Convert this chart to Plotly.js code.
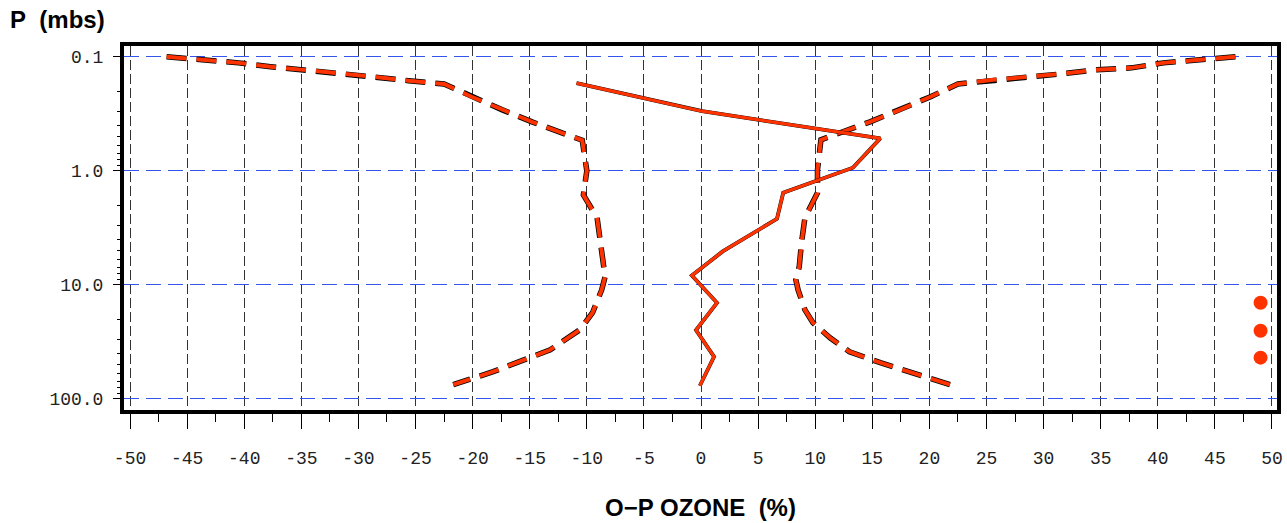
<!DOCTYPE html>
<html>
<head>
<meta charset="utf-8">
<script src="https://cdn.plot.ly/plotly-3.0.1.min.js"></script>
<style>html,body{margin:0;padding:0;background:#fff;}#chart{width:1287px;height:523px;}</style>
</head>
<body>
<div id="chart"></div>
<script>
// Upper (positive) envelope, dashed
const rightX = [46.8, 43.7, 40.5, 37.7, 34.7, 31.6, 28.5, 25.6, 22.5, 20.1, 17.4, 14.8, 10.5, 10.2, 10.2, 9.1, 8.8, 8.6, 8.3, 8.5, 9.1, 9.8, 11.3, 13.0, 15.7, 18.6, 21.8];
const rightP = [0.1, 0.106, 0.113, 0.125, 0.130, 0.141, 0.150, 0.159, 0.173, 0.224, 0.292, 0.372, 0.535, 0.98, 1.56, 2.58, 4.28, 6.95, 9.0, 11.1, 16.6, 21.5, 29.2, 38.7, 48.3, 59.1, 75.3];
// Lower (negative) envelope, dashed
const leftX = [-46.8, -43.7, -40.5, -37.7, -34.7, -31.6, -28.5, -25.6, -22.5, -20.1, -17.4, -14.8, -10.4, -10.0, -10.3, -9.1, -8.8, -8.4, -8.7, -9.5, -10.6, -13.2, -15.0, -18.2, -21.7];
const leftP = [0.1, 0.106, 0.113, 0.122, 0.130, 0.141, 0.150, 0.162, 0.173, 0.224, 0.292, 0.372, 0.54, 1.0, 1.63, 2.58, 4.28, 8.5, 11.1, 17.6, 24.8, 37.2, 43.6, 57.9, 75.3];
// O-P mean difference, solid
const solidX = [-10.9, 0.1, 15.7, 13.3, 7.2, 6.65, 1.9, -0.8, 1.4, -0.44, 1.14, -0.1];
const solidP = [0.17, 0.30, 0.52, 0.94, 1.56, 2.64, 5.1, 8.3, 14.4, 25, 42.8, 77];
// Dots at right edge
const dotX = [49, 49, 49];
const dotP = [14.4, 25.3, 43.6];
// Tick labels
const xTickVals = [-50,-45,-40,-35,-30,-25,-20,-15,-10,-5,0,5,10,15,20,25,30,35,40,45,50];
const xTickText = ['-50','-45','-40','-35','-30','-25','-20','-15','-10','-5','0','5','10','15','20','25','30','35','40','45','50'];
const yTickVals = [0.1, 1, 10, 100];
const yTickText = ['0.1', '1.0', '10.0', '100.0'];
const yMinorVals = [];
[0.1, 1, 10].forEach(d => { for (let k = 2; k <= 9; k++) yMinorVals.push(d * k); });

const RED = '#ff3300';
const dash = '20px,10px';
const traces = [
  {x: leftX, y: leftP, mode: 'lines', line: {color: '#000', width: 5.5, dash: dash}, hoverinfo: 'skip'},
  {x: leftX, y: leftP, mode: 'lines', line: {color: RED, width: 4, dash: dash}},
  {x: rightX, y: rightP, mode: 'lines', line: {color: '#000', width: 5.5, dash: dash}, hoverinfo: 'skip'},
  {x: rightX, y: rightP, mode: 'lines', line: {color: RED, width: 4, dash: dash}},
  {x: solidX, y: solidP, mode: 'lines', line: {color: '#000', width: 3.8}, hoverinfo: 'skip'},
  {x: solidX, y: solidP, mode: 'lines', line: {color: RED, width: 3.2}},
  {x: dotX, y: dotP, mode: 'markers', marker: {color: RED, size: 14}}
];

const tickFont = {family: 'Liberation Mono, monospace', size: 18, color: '#222'};
const layout = {
  width: 1287, height: 523,
  margin: {l: 124, r: 10, t: 46, b: 113},
  paper_bgcolor: '#fff', plot_bgcolor: '#fff',
  showlegend: false,
  title: {text: '<b>P\u00a0\u00a0(mbs)</b>', font: {family: 'Liberation Sans, Arial, sans-serif', size: 24, color: '#000'},
          xref: 'container', yref: 'container', x: 10/1287, xanchor: 'left', y: 1 - 20/523, yanchor: 'middle'},
  xaxis: {
    range: [-50.53, 50.44], tickmode: 'array', tickvals: xTickVals, ticktext: xTickText,
    ticks: 'outside', ticklen: 15, tickwidth: 1, tickcolor: '#000',
    minor: {tickmode: 'linear', tick0: 0, dtick: 2.5, ticks: 'outside', ticklen: 8, tickwidth: 1, tickcolor: '#000', showgrid: false},
    showgrid: true, gridcolor: '#333', gridwidth: 1, griddash: '10px,4px',
    showline: true, linecolor: '#000', linewidth: 4, mirror: true, zeroline: false,
    tickfont: tickFont, ticklabelstandoff: 13,
    title: {text: '<b>O\u2212P OZONE\u00a0\u00a0(%)</b>', font: {family: 'Liberation Sans, Arial, sans-serif', size: 24, color: '#000'}, standoff: 33}
  },
  yaxis: {
    type: 'log', range: [2.099, -1.095], tickmode: 'array', tickvals: yTickVals, ticktext: yTickText,
    ticks: 'outside', ticklen: 7, tickwidth: 1, tickcolor: '#000',
    minor: {tickmode: 'array', tickvals: yMinorVals, ticks: 'outside', ticklen: 3, tickwidth: 1, tickcolor: '#000', showgrid: false},
    showgrid: true, gridcolor: '#3355ee', gridwidth: 1.3, griddash: '15px,7px',
    showline: true, linecolor: '#000', linewidth: 4, mirror: true, zeroline: false,
    tickfont: tickFont, ticklabelstandoff: 6
  }
};
Plotly.newPlot('chart', traces, layout, {staticPlot: true, displayModeBar: false});
</script>
</body>
</html>
